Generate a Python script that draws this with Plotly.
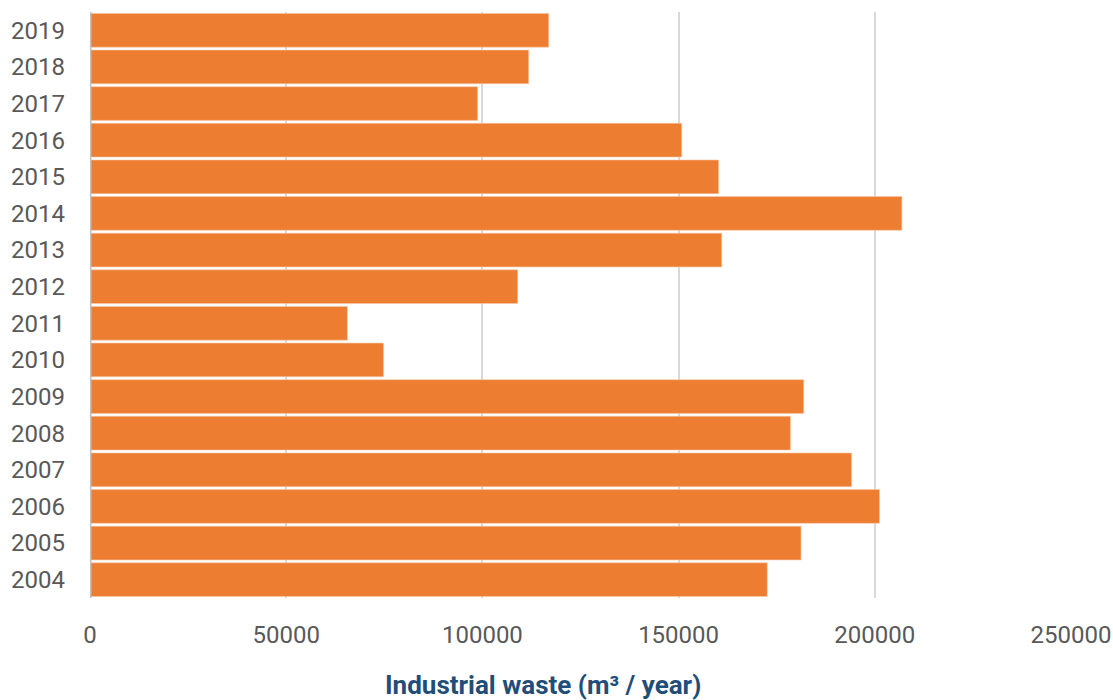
import plotly.graph_objects as go

years = [2004, 2005, 2006, 2007, 2008, 2009, 2010, 2011, 2012, 2013, 2014, 2015, 2016, 2017, 2018, 2019]
waste = [172600, 181200, 201200, 194100, 178500, 181900, 74800, 65600, 109000, 161000, 206900, 160200, 150800, 98800, 111800, 116900]
x_ticks = [0, 50000, 100000, 150000, 200000, 250000]

fig = go.Figure(go.Bar(
    x=waste, y=years, orientation="h",
    marker=dict(color="#ED7D31", line=dict(color="#F6C9A8", width=0.6)),
    width=0.92,
))

fig.update_layout(
    width=1113, height=700,
    margin=dict(l=90, r=42, t=12, b=102),
    plot_bgcolor="white", paper_bgcolor="white",
    font=dict(family="Roboto", size=24, color="#595959"),
    showlegend=False,
    xaxis=dict(range=[0, 250000], tickvals=x_ticks, ticktext=[str(v) for v in x_ticks],
               showgrid=True, gridcolor="#D9D9D9", gridwidth=2, automargin=False,
               zeroline=False, showline=False, ticklabelstandoff=20,
               tickfont=dict(size=24, color="#595959")),
    yaxis=dict(range=[2003.5, 2019.5], tickvals=years, ticktext=[str(y) for y in years],
               showgrid=False, zeroline=False, showline=False, automargin=False,
               ticklabelstandoff=24, tickfont=dict(size=24, color="#595959")),
    annotations=[dict(text="<b>Industrial waste (m³ / year)</b>", x=0.462, y=-0.148,
                      xref="paper", yref="paper", showarrow=False,
                      xanchor="center", yanchor="middle",
                      font=dict(size=26, color="#1F4E79", family="Roboto"))],
    shapes=[dict(type="line", xref="x", yref="paper", x0=0, x1=0, y0=0, y1=1,
                 line=dict(color="#BFBFBF", width=3))],
)

fig.write_html("out.html")
